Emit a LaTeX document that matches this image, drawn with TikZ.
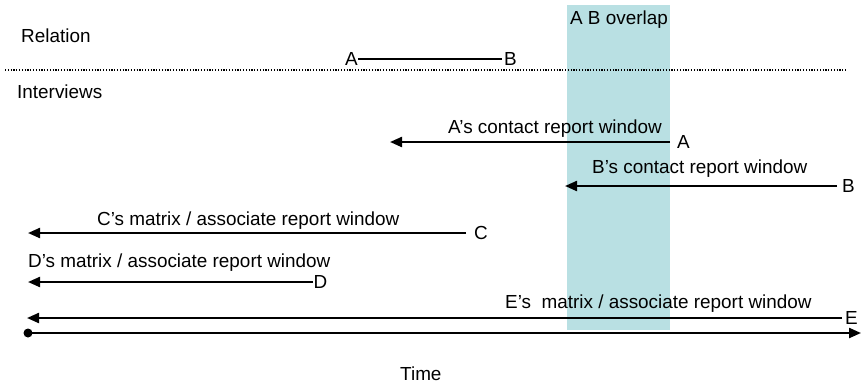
\documentclass[tikz,border=0pt]{standalone}
\usepackage{fontspec}
\setmainfont{Liberation Sans}
\usetikzlibrary{arrows.meta}
\definecolor{overlapc}{HTML}{B9E0E3}

\begin{document}
\begin{tikzpicture}[x=1pt, y=-1pt,
    txt/.style={anchor=base west, inner sep=0pt, font=\fontsize{18.9}{22}\selectfont},
    lbl/.style={anchor=west, inner ysep=0pt, font=\fontsize{18.9}{22}\selectfont},
    win/.style={line width=2.2pt, -{Triangle[length=12pt, width=10pt]}}]
    \useasboundingbox (0,0) rectangle (861,386);

    % 重叠区域
    \fill[overlapc] (567,5) rectangle (670,330);
    \node[txt, anchor=base] (ovl) at (619,24) {A B overlap};

    % 关系
    \node[txt] (rel) at (21,42) {Relation};
    \node[lbl, anchor=east, inner xsep=0pt] (relA) at (358,59) {A};
    \node[lbl, inner xsep=2pt] (relB) at (502,59) {B};
    \draw[line width=2pt] (relA.east) -- (relB.west);

    % 分隔线
    \draw[line width=1.5pt, dash pattern=on 1.2pt off 1.6pt] (5,70) -- (847,70);
    \node[txt] (intv) at (17,98) {Interviews};

    % 报告窗口
    \coordinate (endA) at (390,140);
    \node[lbl, inner xsep=7pt] (labA) at (670,142) {A};
    \draw[win] (labA.west) -- (labA.west -| endA);
    \node[txt] (txtA) at (448,133) {A’s contact report window};

    \coordinate (endB) at (565,186);
    \node[lbl, inner xsep=5pt] (labB) at (837,186) {B};
    \draw[win] (labB.west) -- (endB);
    \node[txt] (txtB) at (592,173) {B’s contact report window};

    \coordinate (endC) at (28,233);
    \node[lbl, inner xsep=8pt] (labC) at (466,233) {C};
    \draw[win] (labC.west) -- (endC);
    \node[txt] (txtC) at (97,225) {C’s matrix / associate report window};

    \coordinate (endD) at (28,282);
    \node[lbl, inner xsep=0.5pt] (labD) at (313,282) {D};
    \draw[win] (labD.west) -- (endD);
    \node[txt] (txtD) at (28,267) {D’s matrix / associate report window};

    \coordinate (endE) at (27,318);
    \node[lbl, inner xsep=3pt] (labE) at (842,318) {E};
    \draw[win] (labE.west) -- (endE);
    \node[txt] (txtE) at (505,308) {E’s\ \ matrix / associate report window};

    % 时间轴
    \coordinate (t0) at (28,333);
    \coordinate (t1) at (861,333);
    \draw[win] (t0) -- (t1);
    \fill (t0) circle (4.5pt);
    \node[txt] (time) at (400,380) {Time};
\end{tikzpicture}
\end{document}
